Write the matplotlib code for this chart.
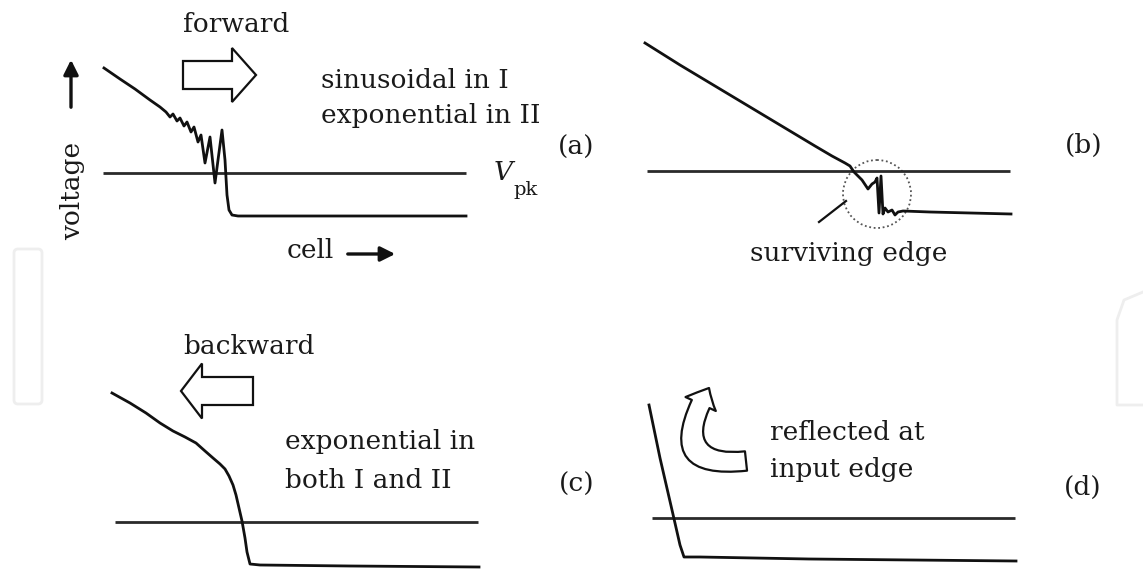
import matplotlib.pyplot as plt
from matplotlib.patches import FancyArrow, FancyArrowPatch, Circle, FancyBboxPatch
from matplotlib.path import Path

# voltage profiles along the cell chain, one per panel (pixel canvas, y down)
a_cell = [104, 120, 135, 150, 160, 166, 170, 173, 177, 180, 184, 187, 191, 194,
          198, 201, 205, 210, 215, 218, 222, 225, 227, 229, 232, 238, 466]
a_volt = [68, 79, 89, 100, 107, 112, 117, 114, 121, 118, 126, 122, 132, 127,
          142, 135, 163, 137, 183, 160, 130, 160, 195, 210, 215, 216, 216]

b_cell = [645, 680, 720, 760, 790, 815, 832, 845, 850, 854, 862, 868, 872, 875,
          877, 879, 881, 883, 885, 888, 892, 895, 898, 903, 930, 1011]
b_volt = [43, 65, 89, 113, 131, 146, 156, 163, 166, 172, 180, 189, 184, 182,
          178, 213, 176, 214, 208, 212, 210, 215, 212, 211, 212, 214]

c_cell = [112, 130, 146, 160, 173, 185, 196, 205, 213, 220, 225, 229, 233, 236,
          239, 242, 245, 247, 250, 260, 350, 479]
c_volt = [393, 403, 413, 423, 431, 437, 443, 451, 458, 464, 469, 476, 485, 495,
          508, 521, 538, 552, 564, 565, 566, 567]

d_cell = [649, 660, 672, 680, 684, 700, 809, 1016]
d_volt = [405, 458, 510, 545, 557, 557, 559, 561]

# V_pk threshold: (y, x_start, x_end)
vpk_lines = [(173, 103, 466), (171, 647, 1010), (522, 115, 478), (518, 652, 1015)]

panel_tags = ["(a)", "(b)", "(c)", "(d)"]

W, H = 1143, 570
fig = plt.figure(figsize=(W / 100, H / 100), dpi=100)
ax = fig.add_axes([0, 0, 1, 1])
ax.set_xlim(0, W)
ax.set_ylim(H, 0)
ax.axis("off")

serif = "DejaVu Serif"
fs = 19
ink = "#111111"
txt = "#1a1a1a"

# faint leftovers of the page frame
ax.add_patch(FancyBboxPatch((14, 249), 28, 155, boxstyle="round,pad=0,rounding_size=4",
                            fc="none", ec="#eeeeee", lw=2))
ax.plot([1143, 1124, 1117, 1117, 1143], [292, 300, 320, 405, 405], color="#eeeeee", lw=2)

for y, x0, x1 in vpk_lines:
    ax.plot([x0, x1], [y, y], color="#2a2a2a", lw=2.0, solid_capstyle="butt")

for xs, ys in [(a_cell, a_volt), (b_cell, b_volt), (c_cell, c_volt), (d_cell, d_volt)]:
    ax.plot(xs, ys, color=ink, lw=2.0, solid_joinstyle="round")

# panel (a)
ax.text(183, 24, "forward", family=serif, fontsize=fs, color=txt, ha="left", va="center")
ax.add_patch(FancyArrow(183, 75, 73, 0, width=28, head_width=54, head_length=24,
                        length_includes_head=True, fc="white", ec=ink, lw=1.6))
ax.text(321, 81, "sinusoidal in I", family=serif, fontsize=fs, color=txt, ha="left", va="center")
ax.text(321, 116, "exponential in II", family=serif, fontsize=fs, color=txt, ha="left", va="center")
ax.text(494, 173, "V", family=serif, style="italic", fontsize=fs, color=txt, ha="left", va="center")
ax.text(513, 190, "pk", family=serif, fontsize=14, color=txt, ha="left", va="center")
ax.text(73, 191, "voltage", family=serif, fontsize=fs, color=txt, rotation=90,
        ha="center", va="center")
ax.annotate("", xy=(71, 57), xytext=(71, 110),
            arrowprops=dict(arrowstyle="-|>", lw=2.4, color=ink, mutation_scale=22))
ax.text(287, 251, "cell", family=serif, fontsize=fs, color=txt, ha="left", va="center")
ax.annotate("", xy=(398, 254), xytext=(345, 254),
            arrowprops=dict(arrowstyle="-|>", lw=2.4, color=ink, mutation_scale=22))

# panel (b)
ax.add_patch(Circle((877, 194), 34, fill=False, ec="#555555", lw=1.3, ls=(0, (1, 1.5))))
ax.plot([819, 846], [222, 201], color=ink, lw=1.6)
ax.text(849, 254, "surviving edge", family=serif, fontsize=fs, color=txt, ha="center", va="center")

# panel (c)
ax.text(183, 347, "backward", family=serif, fontsize=fs, color=txt, ha="left", va="center")
ax.add_patch(FancyArrow(253, 391, -72, 0, width=28, head_width=55, head_length=21,
                        length_includes_head=True, fc="white", ec=ink, lw=1.6))
ax.text(285, 442, "exponential in", family=serif, fontsize=fs, color=txt, ha="left", va="center")
ax.text(285, 480, "both I and II", family=serif, fontsize=fs, color=txt, ha="left", va="center")

# panel (d): curled arrow turning back at the input
turn = Path([(746, 461), (662, 470), (709, 388)], [Path.MOVETO, Path.CURVE3, Path.CURVE3])
ax.add_patch(FancyArrowPatch(path=turn, arrowstyle="simple,head_length=13,head_width=24,tail_width=14",
                             fc="white", ec=ink, lw=1.6))
ax.text(770, 433, "reflected at", family=serif, fontsize=fs, color=txt, ha="left", va="center")
ax.text(770, 470, "input edge", family=serif, fontsize=fs, color=txt, ha="left", va="center")

for tag, (x, y) in zip(panel_tags, [(576, 147), (1084, 145), (577, 484), (1083, 487)]):
    ax.text(x, y, tag, family=serif, fontsize=fs, color=txt, ha="center", va="center")

fig.savefig("out.png", dpi=100, facecolor="white")
